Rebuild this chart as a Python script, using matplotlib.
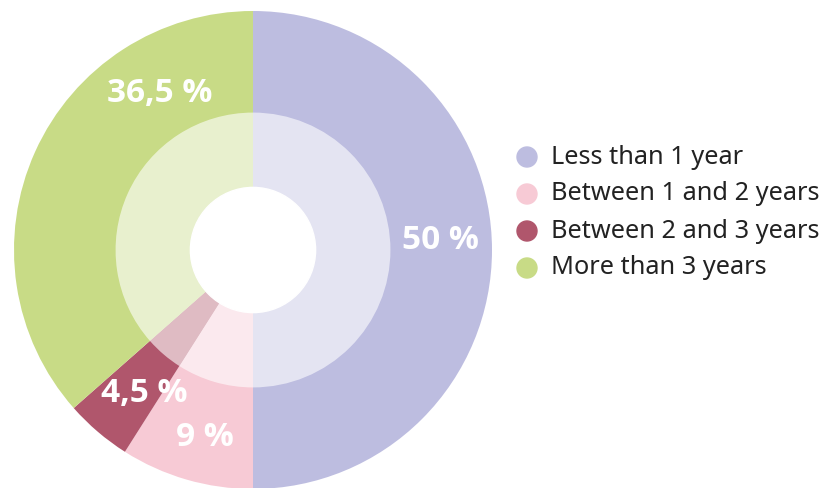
import matplotlib
matplotlib.use("Agg")
import matplotlib.pyplot as plt

categories = ["Less than 1 year", "Between 1 and 2 years", "Between 2 and 3 years", "More than 3 years"]
shares = [50, 9, 4.5, 36.5]
value_labels = ["50 %", "9 %", "4,5 %", "36,5 %"]
colors = ["#bdbde0", "#f7cad5", "#b0566c", "#c8db86"]

# where each percentage label sits, in axes data units (radius 1 = outer edge)
label_pos = [(0.785, 0.04), (-0.20, -0.785), (-0.455, -0.60), (-0.39, 0.655)]

W, H = 833, 488
fig = plt.figure(figsize=(W / 100, H / 100), dpi=100)
R = 239
cx, cy = 253, 250
ax = fig.add_axes([(cx - R) / W, (H - cy - R) / H, 2 * R / W, 2 * R / H])
ax.set_xlim(-1, 1)
ax.set_ylim(-1, 1)
ax.set_aspect("equal")
ax.axis("off")

# outer ring in full colour
ax.pie(shares, colors=colors, startangle=90, counterclock=False, radius=1.0,
       wedgeprops=dict(linewidth=0))
# lighter inner ring: a translucent white veil over the same wedges
ax.pie(shares, colors=["white"] * len(shares), startangle=90, counterclock=False,
       radius=0.575, wedgeprops=dict(linewidth=0, alpha=0.6))
# white centre
ax.add_patch(plt.Circle((0, 0), 0.262, color="white", zorder=5))

for txt, (x, y) in zip(value_labels, label_pos):
    ax.text(x, y, txt, ha="center", va="center", color="white",
            fontsize=24, fontweight="bold", family="Open Sans", zorder=6)

ax.set_xlim(-1, 1)
ax.set_ylim(-1, 1)

# legend drawn as dots and text in figure pixels
rows_y = [157, 194, 231, 268]
for cat, col, y in zip(categories, colors, rows_y):
    fig.patches.append(matplotlib.patches.Ellipse(
        (527 / W, 1 - y / H), 20 / W, 20 / H, color=col, transform=fig.transFigure))
    fig.text(551 / W, 1 - y / H, cat, ha="left", va="center", fontsize=18.2,
             color="#222222", family="Noto Sans")

fig.savefig("out.png", dpi=100)
